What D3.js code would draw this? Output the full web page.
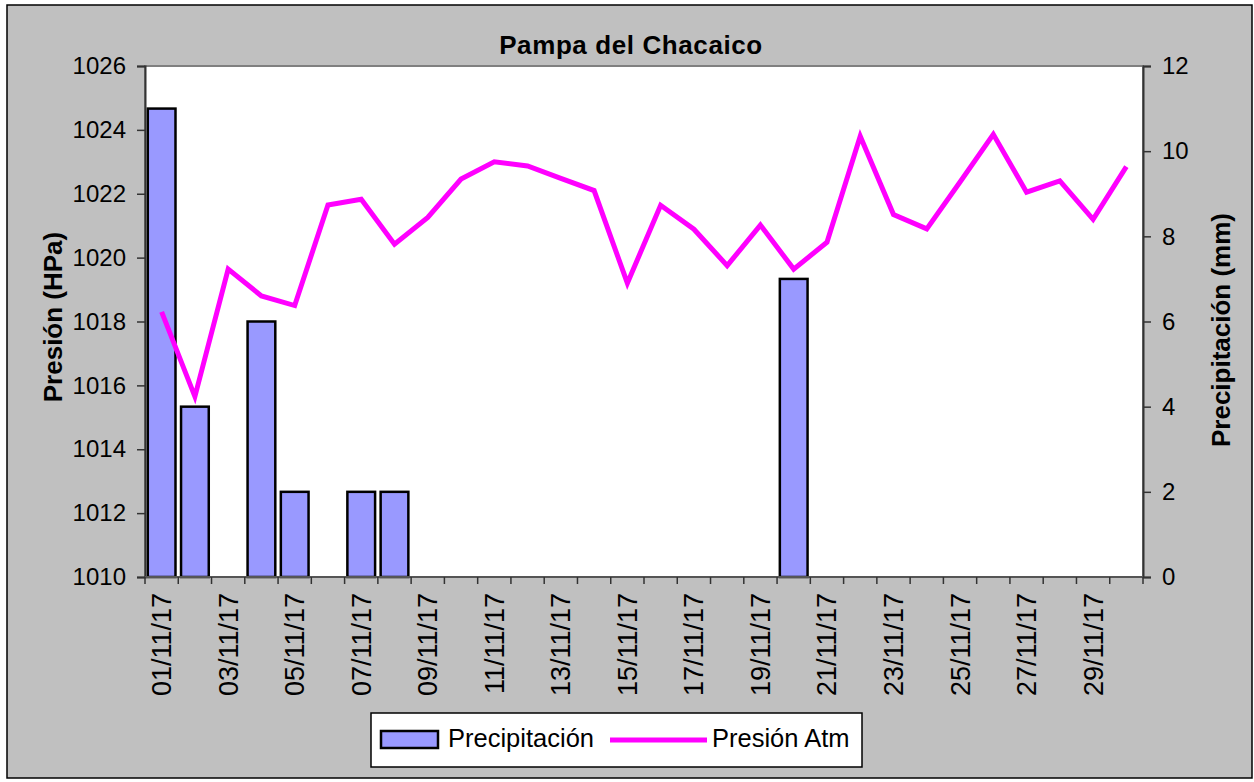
<!DOCTYPE html>
<html>
<head>
<meta charset="utf-8">
<script src="https://cdn.jsdelivr.net/npm/d3@7"></script>
<style>
  html, body { margin: 0; padding: 0; background: #ffffff; }
  svg { display: block; }
  text { font-family: "Liberation Sans", Arial, sans-serif; fill: #000; }
</style>
</head>
<body>
<svg id="chart" width="1254" height="782"></svg>
<script>
const title = "Pampa del Chacaico";
const dates = ["01/11/17","02/11/17","03/11/17","04/11/17","05/11/17","06/11/17","07/11/17","08/11/17","09/11/17","10/11/17",
  "11/11/17","12/11/17","13/11/17","14/11/17","15/11/17","16/11/17","17/11/17","18/11/17","19/11/17","20/11/17",
  "21/11/17","22/11/17","23/11/17","24/11/17","25/11/17","26/11/17","27/11/17","28/11/17","29/11/17","30/11/17"];
const precipitacion = [11,4,0,6,2,0,2,2,0,0, 0,0,0,0,0,0,0,0,0,7, 0,0,0,0,0,0,0,0,0,0];
const presion = [1018.3,1015.65,1019.64,1018.8,1018.5,1021.65,1021.83,1020.42,1021.26,1022.46,
  1023.0,1022.87,1022.48,1022.1,1019.2,1021.64,1020.89,1019.75,1021.02,1019.64,
  1020.48,1023.8,1021.35,1020.9,1022.37,1023.86,1022.05,1022.4,1021.2,1022.85];
const leftTicks = [1010,1012,1014,1016,1018,1020,1022,1024,1026];
const rightTicks = [0,2,4,6,8,10,12];
const seriesNames = ["Precipitación", "Presión Atm"];
const yLeftLabel = "Presión (HPa)";
const yRightLabel = "Precipitación (mm)";

const svg = d3.select("#chart");
const plot = {left: 145, right: 1143, top: 66, bottom: 577};

// Chart background
svg.append("rect").attr("x", 7).attr("y", 5).attr("width", 1245).attr("height", 773)
  .attr("fill", "#c0c0c0").attr("stroke", "#000").attr("stroke-width", 1.5);

// Plot area
svg.append("rect").attr("x", plot.left).attr("y", plot.top)
  .attr("width", plot.right - plot.left).attr("height", plot.bottom - plot.top)
  .attr("fill", "#ffffff").attr("stroke", "#808080").attr("stroke-width", 2);

const x = d3.scaleBand().domain(dates).range([plot.left, plot.right]).padding(0);
const yL = d3.scaleLinear().domain([1010, 1026]).range([plot.bottom, plot.top]);
const yR = d3.scaleLinear().domain([0, 12]).range([plot.bottom, plot.top]);

// Bars
const bw = x.bandwidth() / 1.2;
svg.append("g").selectAll("rect").data(dates.map((d, i) => ({d, v: precipitacion[i]})).filter(o => o.v > 0))
  .join("rect")
  .attr("x", o => x(o.d) + (x.bandwidth() - bw) / 2)
  .attr("y", o => yR(o.v))
  .attr("width", bw)
  .attr("height", o => yR(0) - yR(o.v))
  .attr("fill", "#9999ff").attr("stroke", "#000").attr("stroke-width", 2.5);

// Line
const line = d3.line().x((d, i) => x(dates[i]) + x.bandwidth() / 2).y(d => yL(d));
svg.append("path").datum(presion).attr("d", line)
  .attr("fill", "none").attr("stroke", "#ff00ff").attr("stroke-width", 5)
  .attr("stroke-linejoin", "miter");

const tickFont = 24;
// Left axis
const axL = svg.append("g").attr("transform", `translate(${plot.left},0)`)
  .call(d3.axisLeft(yL).tickValues(leftTicks).tickSize(8).tickPadding(11).tickFormat(d3.format("d")));
axL.select(".domain").attr("stroke", "#333").attr("stroke-width", 2);
axL.selectAll(".tick line").attr("stroke", "#333").attr("stroke-width", 1.5);
axL.selectAll(".tick text").attr("font-size", tickFont).attr("font-family", "Liberation Sans, Arial, sans-serif");

// Right axis
const axR = svg.append("g").attr("transform", `translate(${plot.right},0)`)
  .call(d3.axisRight(yR).tickValues(rightTicks).tickSize(8).tickPadding(11).tickFormat(d3.format("d")));
axR.select(".domain").attr("stroke", "#333").attr("stroke-width", 2);
axR.selectAll(".tick line").attr("stroke", "#333").attr("stroke-width", 1.5);
axR.selectAll(".tick text").attr("font-size", tickFont).attr("font-family", "Liberation Sans, Arial, sans-serif");

// Bottom axis: ticks at category boundaries
const boundaries = dates.map(d => x(d)).concat([plot.right]);
const axB = svg.append("g");
axB.append("line").attr("x1", plot.left).attr("x2", plot.right).attr("y1", plot.bottom).attr("y2", plot.bottom)
  .attr("stroke", "#555").attr("stroke-width", 2);
axB.selectAll("line.tk").data(boundaries).join("line").attr("class", "tk")
  .attr("x1", d => d).attr("x2", d => d).attr("y1", plot.bottom).attr("y2", plot.bottom + 7)
  .attr("stroke", "#333").attr("stroke-width", 1.5);
axB.selectAll("text").data(dates.filter((d, i) => i % 2 === 0)).join("text")
  .attr("transform", d => `translate(${x(d) + x.bandwidth() / 2 + 9.5},${plot.bottom + 16}) rotate(-90)`)
  .attr("text-anchor", "end")
  .attr("font-size", 27)
  .text(d => d);

// Title
svg.append("text").attr("x", 631).attr("y", 54).attr("text-anchor", "middle")
  .attr("font-size", 26).attr("font-weight", "bold").attr("letter-spacing", 0.6)
  .text(title);

// Axis titles
svg.append("text").attr("transform", `translate(62,317) rotate(-90)`).attr("text-anchor", "middle")
  .attr("font-size", 26).attr("font-weight", "bold")
  .text(yLeftLabel);
svg.append("text").attr("transform", `translate(1230,330) rotate(-90)`).attr("text-anchor", "middle")
  .attr("font-size", 26).attr("font-weight", "bold")
  .text(yRightLabel);

// Legend
const lg = svg.append("g");
lg.append("rect").attr("x", 371).attr("y", 713).attr("width", 491).attr("height", 54)
  .attr("fill", "#fff").attr("stroke", "#000").attr("stroke-width", 1.5);
lg.append("rect").attr("x", 381).attr("y", 731).attr("width", 57).attr("height", 17)
  .attr("fill", "#9999ff").attr("stroke", "#000").attr("stroke-width", 2.5);
lg.append("text").attr("x", 448).attr("y", 747).attr("font-size", 25.5).text(seriesNames[0]);
lg.append("line").attr("x1", 610).attr("x2", 707).attr("y1", 740).attr("y2", 740)
  .attr("stroke", "#ff00ff").attr("stroke-width", 5);
lg.append("text").attr("x", 712).attr("y", 747).attr("font-size", 25.5).text(seriesNames[1]);
</script>
</body>
</html>
